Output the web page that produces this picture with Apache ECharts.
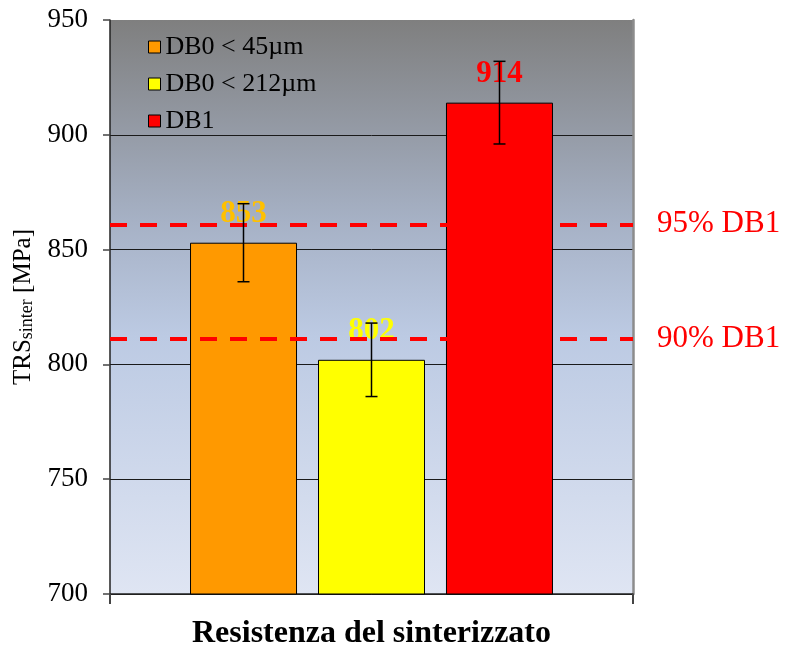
<!DOCTYPE html>
<html>
<head>
<meta charset="utf-8">
<style>
  html, body { margin: 0; padding: 0; background: #ffffff; }
  #chart { width: 785px; height: 646px; }
</style>
<script src="https://cdn.jsdelivr.net/npm/echarts@6/dist/echarts.min.js"></script>
</head>
<body>
<div id="chart"></div>
<script>
// Sintered transverse rupture strength by powder type
const categories = ['Resistenza del sinterizzato'];
const seriesNames = ['DB0 < 45\u00b5m', 'DB0 < 212\u00b5m', 'DB1'];
const trsValues = [853, 802, 914];
const trsErrors = [17, 16, 18];
const barColors = ['#FF9900', '#FFFF00', '#FF0000'];
const labelColors = ['#FFC000', '#FFFF00', '#FF0000'];
const thresholdValues = [861, 811];
const thresholdLabels = ['95% DB1', '90% DB1'];
const yTicks = { min: 700, max: 950, step: 50 };

const serif = 'Liberation Serif, Times New Roman, serif';
const BAR_W = 107;
const BAR_GAP = 21;

const barSeries = seriesNames.map((name, i) => ({
  name: name,
  type: 'bar',
  data: [trsValues[i]],
  barWidth: BAR_W,
  barGap: (BAR_GAP / BAR_W * 100).toFixed(1) + '%',
  z: 2,
  itemStyle: { color: barColors[i], borderColor: '#000', borderWidth: 1 },
  label: {
    show: true,
    position: 'top',
    distance: 13,
    color: labelColors[i],
    fontFamily: serif,
    fontWeight: 'bold',
    fontSize: 31
  }
}));

// error bars: [seriesIndex, low, high]
const errData = trsValues.map((v, i) => [i, v - trsErrors[i], v + trsErrors[i]]);

const errorSeries = {
  name: 'err',
  type: 'custom',
  z: 5,
  silent: true,
  data: errData,
  renderItem: function (params, api) {
    const idx = api.value(0);
    const lo = api.coord([0, api.value(1)]);
    const hi = api.coord([0, api.value(2)]);
    const x = lo[0] + (idx - 1) * (BAR_W + BAR_GAP);
    const cap = 6;
    const st = { stroke: '#000', lineWidth: 1.5 };
    return {
      type: 'group',
      children: [
        { type: 'line', shape: { x1: x, y1: lo[1], x2: x, y2: hi[1] }, style: st },
        { type: 'line', shape: { x1: x - cap, y1: lo[1], x2: x + cap, y2: lo[1] }, style: st },
        { type: 'line', shape: { x1: x - cap, y1: hi[1], x2: x + cap, y2: hi[1] }, style: st }
      ]
    };
  }
};

const thresholdSeries = {
  name: 'threshold',
  type: 'line',
  data: [],
  z: 10,
  silent: true,
  markLine: {
    symbol: ['none', 'none'],
    silent: true,
    animation: false,
    lineStyle: { color: '#FF0000', type: [17, 13], width: 4 },
    label: {
      show: true,
      position: 'end',
      distance: 24,
      formatter: '{b}',
      color: '#FF0000',
      fontFamily: serif,
      fontSize: 31
    },
    data: thresholdValues.map((v, i) => ({ yAxis: v, name: thresholdLabels[i] }))
  }
};

const chart = echarts.init(document.getElementById('chart'), null, { renderer: 'canvas' });

chart.setOption({
  animation: false,
  backgroundColor: '#ffffff',
  grid: {
    left: 110, right: 152, top: 20, bottom: 52,
    outerBoundsMode: 'none',
    containLabel: false,
    show: true,
    borderWidth: 0,
    backgroundColor: {
      type: 'linear', x: 0, y: 0, x2: 0, y2: 1,
      colorStops: [
        { offset: 0, color: '#7f7f7f' },
        { offset: 0.35, color: '#a6b1c5' },
        { offset: 0.55, color: '#bccae3' },
        { offset: 1, color: '#dfe5f3' }
      ]
    }
  },
  legend: {
    data: seriesNames,
    orient: 'vertical',
    left: 143,
    top: 29,
    itemWidth: 12,
    itemHeight: 12,
    itemGap: 11,
    icon: 'rect',
    itemStyle: { borderColor: '#000', borderWidth: 1 },
    textStyle: { fontFamily: serif, fontSize: 26, color: '#000' }
  },
  xAxis: {
    type: 'category',
    data: categories,
    boundaryGap: true,
    name: categories[0],
    nameLocation: 'middle',
    nameGap: 24,
    nameTextStyle: { fontFamily: serif, fontWeight: 'bold', fontSize: 32, color: '#000' },
    axisLine: { show: true, lineStyle: { color: '#222', width: 1.5 } },
    axisTick: { show: true, length: 10, lineStyle: { color: '#444', width: 2 } },
    axisLabel: { show: false },
    splitLine: { show: false }
  },
  yAxis: [{
    type: 'value',
    min: yTicks.min,
    max: yTicks.max,
    interval: yTicks.step,
    name: '{a|TRS}{b|sinter}{a| [MPa]}',
    nameLocation: 'middle',
    nameRotate: 90,
    nameGap: 74,
    nameTextStyle: {
      fontFamily: serif,
      color: '#000',
      rich: {
        a: { fontFamily: serif, fontSize: 25, color: '#000', verticalAlign: 'bottom', lineHeight: 28 },
        b: { fontFamily: serif, fontSize: 18, color: '#000', verticalAlign: 'bottom', lineHeight: 24 }
      }
    },
    axisLine: { show: true, lineStyle: { color: '#222', width: 1.5 } },
    axisTick: { show: true, length: 7, lineStyle: { color: '#444', width: 1.5 } },
    axisLabel: { fontFamily: serif, fontSize: 27, color: '#000', margin: 22 },
    splitLine: {
      show: true,
      lineStyle: { color: ['#1a1a1a', '#1a1a1a', '#1a1a1a', '#1a1a1a', '#1a1a1a', 'rgba(0,0,0,0)'], width: 1 }
    }
  }, {
    // right edge of the plot frame
    type: 'value',
    position: 'right',
    min: yTicks.min,
    max: yTicks.max,
    interval: yTicks.step,
    axisLine: { show: true, lineStyle: { color: '#8c8c8c', width: 2.5 } },
    axisTick: { show: false },
    axisLabel: { show: false },
    splitLine: { show: false }
  }],
  series: [...barSeries, errorSeries, thresholdSeries]
});
</script>
</body>
</html>
